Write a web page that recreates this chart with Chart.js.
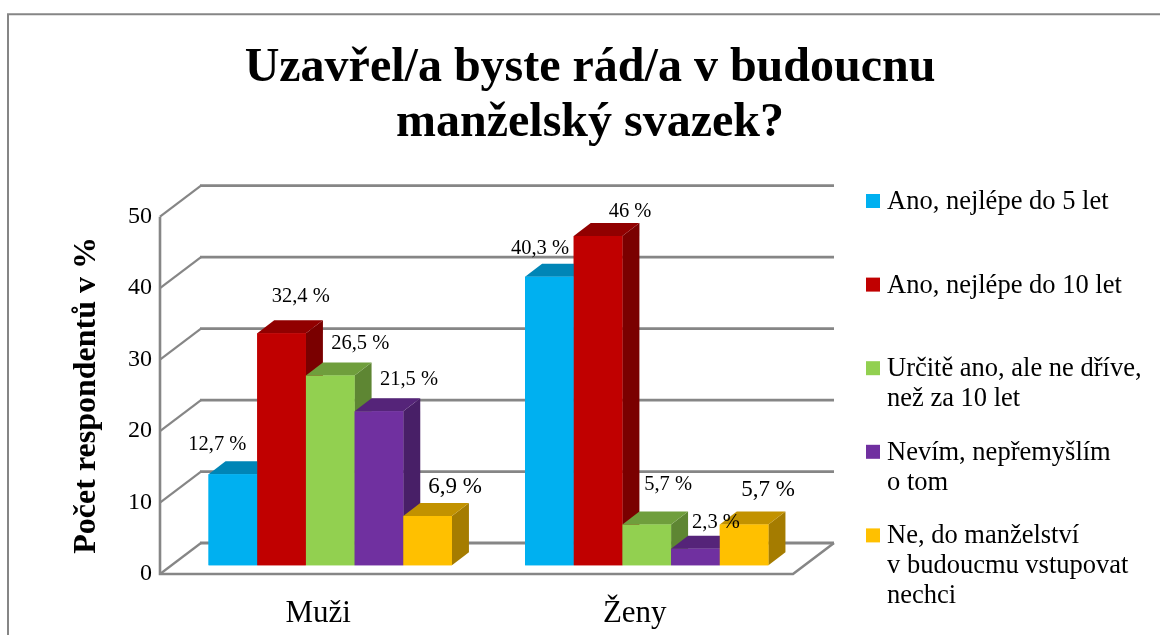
<!DOCTYPE html>
<html>
<head>
<meta charset="utf-8">
<script src="https://cdn.jsdelivr.net/npm/chart.js@4"></script>
<style>html,body{margin:0;padding:0;background:#fff;overflow:hidden}canvas{display:block}</style>
</head>
<body>
<canvas id="c" width="1160" height="635"></canvas>
<script>
const categories = ['Muži', 'Ženy'];
const seriesNames = [
  ['Ano, nejlépe do 5 let'],
  ['Ano, nejlépe do 10 let'],
  ['Určitě ano, ale ne dříve,', 'než za 10 let'],
  ['Nevím, nepřemyšlím', 'o tom'],
  ['Ne, do manželství', 'v budoucmu vstupovat', 'nechci']
];
const anoDo5 = [12.7, 40.3];
const anoDo10 = [32.4, 46];
const urciteAno = [26.5, 5.7];
const nevim = [21.5, 2.3];
const ne = [6.9, 5.7];
const tickValues = [0, 10, 20, 30, 40, 50];
const titleLines = ['Uzavřel/a byste rád/a v budoucnu', 'manželský svazek?'];
const yTitle = 'Počet respondentů v %';

const allSeries = [anoDo5, anoDo10, urciteAno, nevim, ne];
const frontColors = ['#00B0F0', '#C00000', '#92D050', '#7030A0', '#FFC000'];
const topColors = ['#0085B6', '#910000', '#6F9E3C', '#552479', '#C29200'];
const sideColors = ['#0077A3', '#7A0000', '#5E8633', '#481F67', '#A57C00'];

// label placement relative to the top centre of each bar: [dx, dy] per category
const labelOffsets = [
  [[-15.5, -30.2], [-9.4, -27.8]],
  [[19.2, -36.3], [32, -24]],
  [[30, -32], [21.3, -39.5]],
  [[30, -31.4], [20.6, -25.8]],
  [[27.4, -29], [24, -34.5]]
];
const labelSizes = [
  [20.5, 20.5], [20.5, 20.5], [20.5, 20.5], [20.5, 20.5], [23, 23]
];

const FONT = '"Liberation Serif"';
const GRID = '#868686';
const WALL_SHIFT = 12;      // front wall sits left of the bar plot
const BACK_DX = 41, BACK_DY = 31;
const BAR_DX = 17, BAR_DY = 13;

const scene = {
  id: 'scene',
  beforeDatasetsDraw(chart) {
    const ctx = chart.ctx, a = chart.chartArea, y = chart.scales.y;
    const x0 = a.left - WALL_SHIFT, x1 = a.right - WALL_SHIFT;
    ctx.save();
    ctx.strokeStyle = GRID;
    ctx.lineCap = 'butt';
    ctx.lineJoin = 'miter';
    // outer frame
    ctx.lineWidth = 2;
    ctx.beginPath();
    ctx.moveTo(8, 635); ctx.lineTo(8, 14.2); ctx.lineTo(1160, 14.2);
    ctx.stroke();
    // wall lines
    tickValues.forEach(v => {
      const py = y.getPixelForValue(v);
      ctx.lineWidth = 2.2;
      ctx.beginPath();
      ctx.moveTo(x0, py);
      ctx.lineTo(x0 + BACK_DX, py - BACK_DY);
      ctx.stroke();
      ctx.lineWidth = 2.8;
      ctx.beginPath();
      ctx.moveTo(x0 + BACK_DX - 1, py - BACK_DY);
      ctx.lineTo(x1 + BACK_DX, py - BACK_DY);
      ctx.stroke();
    });
    // floor front edge and left axis
    const bottom = y.getPixelForValue(0), top = y.getPixelForValue(50);
    ctx.lineWidth = 2.6;
    ctx.beginPath();
    ctx.moveTo(x0, top); ctx.lineTo(x0, bottom); ctx.lineTo(x1, bottom);
    ctx.lineTo(x1 + BACK_DX, bottom - BACK_DY);
    ctx.stroke();
    ctx.restore();
  },
  afterDatasetsDraw(chart) {
    const ctx = chart.ctx;
    ctx.save();
    // paint bars left to right so that each one hides the depth of its left neighbour
    for (let j = 0; j < categories.length; j++) {
      for (let i = 0; i < allSeries.length; i++) {
        const bar = chart.getDatasetMeta(i).data[j];
        const p = bar.getProps(['x', 'y', 'base', 'width'], true);
        const l = p.x - p.width / 2, r = p.x + p.width / 2;
        ctx.fillStyle = sideColors[i];
        ctx.beginPath();
        ctx.moveTo(r, p.y); ctx.lineTo(r + BAR_DX, p.y - BAR_DY);
        ctx.lineTo(r + BAR_DX, p.base - BAR_DY); ctx.lineTo(r, p.base);
        ctx.closePath(); ctx.fill();
        ctx.fillStyle = topColors[i];
        ctx.beginPath();
        ctx.moveTo(l, p.y); ctx.lineTo(l + BAR_DX, p.y - BAR_DY);
        ctx.lineTo(r + BAR_DX, p.y - BAR_DY); ctx.lineTo(r, p.y);
        ctx.closePath(); ctx.fill();
        bar.draw(ctx);
      }
    }
    // value labels
    ctx.fillStyle = '#000';
    ctx.textAlign = 'center';
    ctx.textBaseline = 'middle';
    for (let j = 0; j < categories.length; j++) {
      for (let i = 0; i < allSeries.length; i++) {
        const bar = chart.getDatasetMeta(i).data[j];
        const p = bar.getProps(['x', 'y'], true);
        const off = labelOffsets[i][j];
        ctx.font = labelSizes[i][j] + 'px ' + FONT;
        ctx.fillText(String(allSeries[i][j]).replace('.', ',') + ' %', p.x + off[0], p.y + off[1]);
      }
    }
    // legend
    const firstLine = 201, pitch = 83.6, lineGap = 30;
    ctx.textAlign = 'left';
    ctx.font = '26.5px ' + FONT;
    seriesNames.forEach((lines, i) => {
      const cy = firstLine + i * pitch;
      ctx.fillStyle = frontColors[i];
      ctx.fillRect(866, cy - 7, 14, 14);
      ctx.fillStyle = '#000';
      lines.forEach((t, k) => ctx.fillText(t, 887, cy + 1 + k * lineGap));
    });
    ctx.restore();
  }
};

new Chart(document.getElementById('c'), {
  type: 'bar',
  data: {
    labels: categories,
    datasets: allSeries.map((d, i) => ({
      label: seriesNames[i].join(' '),
      data: d,
      yAxisID: 'yBars',
      backgroundColor: frontColors[i],
      borderWidth: 0,
      categoryPercentage: 0.769,
      barPercentage: 1
    }))
  },
  plugins: [scene],
  options: {
    responsive: false,
    animation: false,
    layout: { padding: { left: 20, right: 0, top: 0, bottom: 0 } },
    plugins: {
      legend: { display: false },
      tooltip: { enabled: false },
      title: {
        display: true,
        text: titleLines,
        color: '#000',
        font: { family: FONT, size: 48, weight: 'bold', lineHeight: 1.15 },
        padding: { top: 40.5, bottom: 65.8 }
      }
    },
    scales: {
      x: {
        grid: { display: false },
        border: { display: false },
        ticks: {
          color: '#000', font: { family: FONT, size: 31 }, labelOffset: -WALL_SHIFT,
          padding: 13, autoSkip: false, maxRotation: 0
        },
        afterFit(s) { s.height = 61; }
      },
      y: {
        position: 'left',
        min: 0, max: 50,
        grid: { display: false, drawTicks: false },
        border: { display: false },
        ticks: { stepSize: 10, color: '#000', font: { family: FONT, size: 24 }, padding: 20 },
        title: {
          display: true, text: yTitle, color: '#000',
          font: { family: FONT, size: 32, weight: 'bold' },
          padding: { top: 48, bottom: 0 }
        },
        afterFit(s) { s.width = 152; }
      },
      yBars: {
        position: 'right',
        min: -1.215, max: 48.69,
        grid: { display: false, drawTicks: false },
        border: { display: false },
        ticks: { display: false },
        afterFit(s) { s.width = 355; }
      }
    }
  }
});
</script>
</body>
</html>
